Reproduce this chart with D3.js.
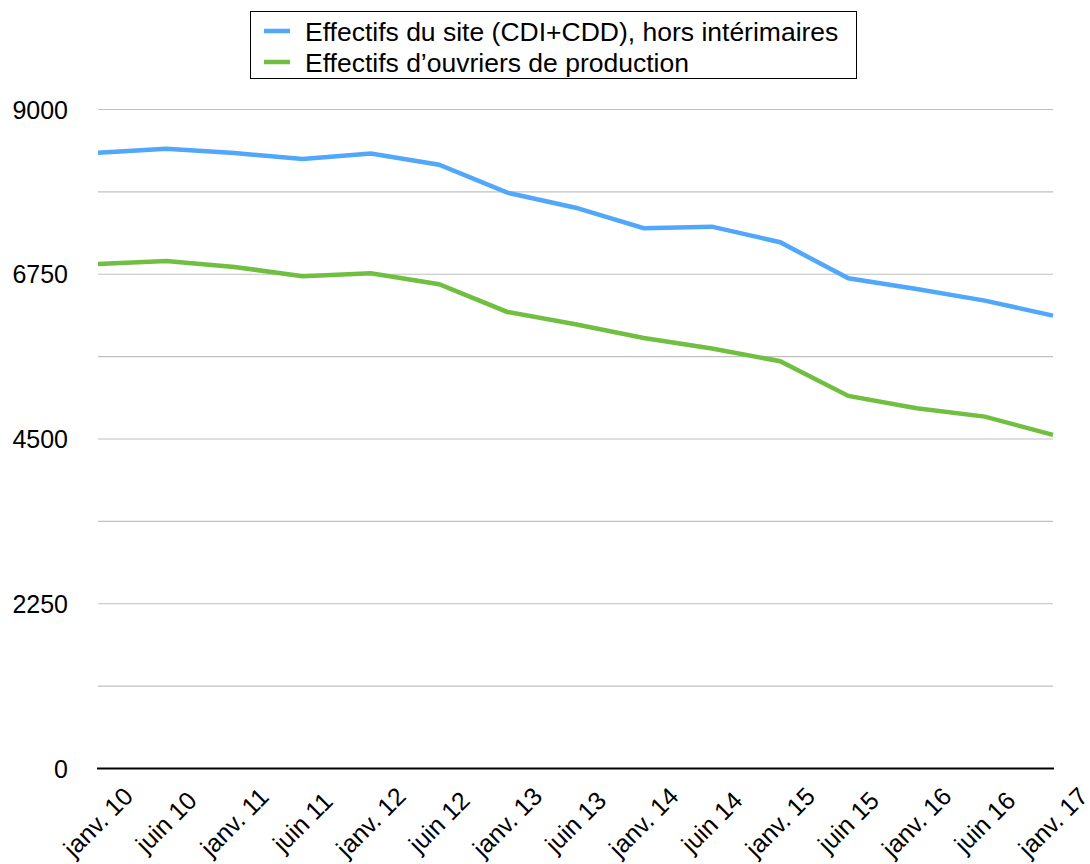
<!DOCTYPE html>
<html><head><meta charset="utf-8">
<script src="https://cdn.jsdelivr.net/npm/d3@7"></script>
<style>body{margin:0;background:#fff}svg{display:block}text{font-family:"Liberation Sans",Arial,Helvetica,sans-serif;fill:#000}</style>
</head><body>
<svg id="c" width="1090" height="864"></svg>
<script>
const categories = ["janv. 10","juin 10","janv. 11","juin 11","janv. 12","juin 12","janv. 13","juin 13","janv. 14","juin 14","janv. 15","juin 15","janv. 16","juin 16","janv. 17"];
const siteValues = [8410,8465,8405,8325,8400,8246,7864,7659,7378,7400,7187,6695,6549,6390,6185];
const ouvriersValues = [6891,6932,6850,6722,6764,6614,6235,6067,5880,5735,5562,5088,4920,4806,4556];
const seriesNames = ["Effectifs du site (CDI+CDD), hors intérimaires","Effectifs d\u2019ouvriers de production"];
const seriesColors = ["#51A7F9","#70BF41"];
const yTickLabels = [0,2250,4500,6750,9000];
const gridValues = [1125,2250,3375,4500,5625,6750,7875,9000];

const svg = d3.select("#c");
const x = d3.scalePoint().domain(categories).range([98,1053]);
const y = d3.scaleLinear().domain([0,9000]).range([768.5,109.5]);

// grid
svg.append("g").selectAll("line").data(gridValues).join("line")
  .attr("x1",98).attr("x2",1053).attr("y1",d=>y(d)).attr("y2",d=>y(d))
  .attr("stroke","#c0c0c0").attr("stroke-width",1.2);

// y labels
svg.append("g").selectAll("text").data(yTickLabels).join("text")
  .attr("x",68).attr("y",d=>y(d)).attr("text-anchor","end").attr("dy","0.36em")
  .style("font-size","25px").text(d=>d);

// x axis line
svg.append("line").attr("x1",97).attr("x2",1054).attr("y1",y(0)).attr("y2",y(0))
  .attr("stroke","#000").attr("stroke-width",2);

// x labels
svg.append("g").selectAll("text").data(categories).join("text")
  .attr("transform",d=>`translate(${x(d)},822) rotate(-45)`)
  .attr("text-anchor","middle").attr("dy","0.35em")
  .style("font-size","25px").text(d=>d);

// lines
const line = d3.line().x((d,i)=>x(categories[i])).y(d=>y(d));
[siteValues,ouvriersValues].forEach((vals,k)=>{
  svg.append("path").datum(vals).attr("d",line).attr("fill","none")
    .attr("stroke",seriesColors[k]).attr("stroke-width",4.5).attr("stroke-linejoin","miter");
});

// legend
const lg = svg.append("g");
lg.append("rect").attr("x",250.5).attr("y",11.5).attr("width",606).attr("height",67)
  .attr("fill","#fff").attr("stroke","#000").attr("stroke-width",1);
seriesNames.forEach((n,k)=>{
  const cy = 31 + k*31;
  lg.append("line").attr("x1",264).attr("x2",290).attr("y1",cy).attr("y2",cy)
    .attr("stroke",seriesColors[k]).attr("stroke-width",4.5);
  lg.append("text").attr("x",305).attr("y",cy).attr("dy","0.36em")
    .style("font-size","26.5px").text(n);
});
</script>
</body></html>
